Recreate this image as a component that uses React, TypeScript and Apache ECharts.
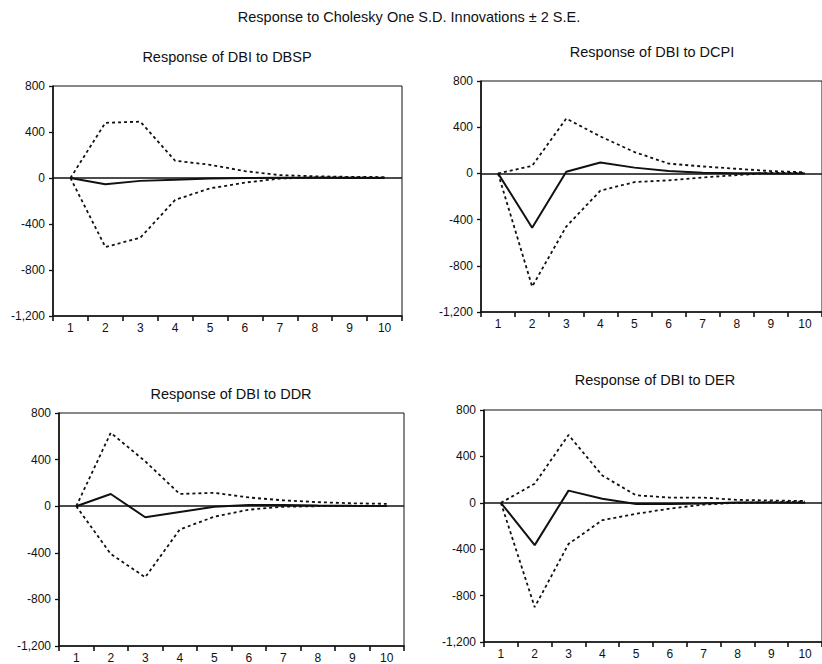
import React, { useEffect, useRef } from "react";
import * as echarts from "echarts";

const periods = ["1", "2", "3", "4", "5", "6", "7", "8", "9", "10"];
const yTicks = { min: -1200, max: 800, interval: 400 };

const mainTitle = "Response to Cholesky One S.D. Innovations ± 2 S.E.";
const panelTitles = [
  "Response of DBI to DBSP",
  "Response of DBI to DCPI",
  "Response of DBI to DDR",
  "Response of DBI to DER",
];

// DBI to DBSP
const dbspResp = [0, -55, -25, -15, -5, 0, 2, 2, 1, 0];
const dbspUpper = [0, 480, 490, 150, 115, 60, 25, 15, 10, 8];
const dbspLower = [0, -600, -520, -190, -90, -40, -5, 5, 5, 3];

// DBI to DCPI
const dcpiResp = [0, -470, 15, 95, 50, 20, 5, 2, 0, 0];
const dcpiUpper = [0, 65, 475, 320, 185, 85, 60, 40, 20, 10];
const dcpiLower = [0, -980, -460, -150, -75, -60, -35, -15, 5, 5];

// DBI to DDR
const ddrResp = [0, 105, -95, -50, -5, 10, 10, 5, 3, 2];
const ddrUpper = [0, 630, 385, 105, 115, 75, 50, 35, 25, 20];
const ddrLower = [0, -410, -610, -200, -90, -30, -5, 0, 2, 2];

// DBI to DER
const derResp = [0, -365, 105, 35, -10, -10, -5, 2, 2, 0];
const derUpper = [0, 165, 585, 235, 65, 45, 45, 25, 20, 15];
const derLower = [0, -900, -355, -150, -95, -50, -15, 0, 5, 10];

const panels = [
  { resp: dbspResp, upper: dbspUpper, lower: dbspLower },
  { resp: dcpiResp, upper: dcpiUpper, lower: dcpiLower },
  { resp: ddrResp, upper: ddrUpper, lower: ddrLower },
  { resp: derResp, upper: derUpper, lower: derLower },
];

// layout
const grids = [
  { left: 53, top: 86, width: 349, height: 230 },
  { left: 481, top: 81, width: 349, height: 231 },
  { left: 59, top: 413, width: 345, height: 233 },
  { left: 484, top: 410, width: 349, height: 232 },
];
const titlePos = [
  [227, 57],
  [652, 52],
  [231, 394],
  [655, 380],
];

const FONT = "Liberation Sans, Arial, sans-serif";
const INK = "#111";

const fmt = (v: number) => {
  const s = Math.abs(v).toString().replace(/\B(?=(\d{3})+(?!\d))/g, ",");
  return (v < 0 ? "-" : "") + s;
};

export default function App() {
  const ref = useRef<HTMLDivElement>(null);
  useEffect(() => {
    if (!ref.current) return;
    const chart = echarts.init(ref.current, undefined, { renderer: "svg" });
    const series: any[] = [];
    panels.forEach((p, i) => {
      series.push({
        type: "line",
        xAxisIndex: i,
        yAxisIndex: i,
        data: p.resp,
        symbol: "none",
        lineStyle: { color: INK, width: 2, type: "solid" },
        markLine: {
          silent: true,
          symbol: "none",
          label: { show: false },
          lineStyle: { color: INK, width: 1.6, type: "solid" },
          data: [{ yAxis: 0 }],
        },
        z: 3,
      });
      [p.upper, p.lower].forEach((d) => {
        series.push({
          type: "line",
          xAxisIndex: i,
          yAxisIndex: i,
          data: d,
          symbol: "none",
          lineStyle: { color: INK, width: 1.8, type: [3, 3] },
          z: 2,
        });
      });
    });
    const option: any = {
      animation: false,
      backgroundColor: "#fff",
      grid: grids.map((g) => ({
        ...g,
        show: true,
        borderColor: INK,
        borderWidth: 1,
        backgroundColor: "transparent",
      })),
      xAxis: grids.map((_, i) => ({
        type: "category",
        gridIndex: i,
        data: periods,
        boundaryGap: true,
        axisLine: { show: true, onZero: false, lineStyle: { color: INK, width: 1.6 } },
        axisTick: { show: true, length: 5, interval: 0, lineStyle: { color: INK, width: 1.6 } },
        axisLabel: { interval: 0, margin: 6, fontSize: 12, color: INK, fontFamily: FONT },
        splitLine: { show: false },
      })),
      yAxis: grids.map((_, i) => ({
        type: "value",
        gridIndex: i,
        min: yTicks.min,
        max: yTicks.max,
        interval: yTicks.interval,
        axisLine: { show: true, lineStyle: { color: INK, width: 1.6 } },
        axisTick: { show: true, length: 4, lineStyle: { color: INK, width: 1.3 } },
        axisLabel: { margin: 8, fontSize: 12, color: INK, fontFamily: FONT, formatter: fmt },
        splitLine: { show: false },
      })),
      graphic: [
        {
          type: "text",
          x: 409,
          y: 17,
          style: {
            text: mainTitle,
            fill: INK,
            font: `14.5px ${FONT}`,
            textAlign: "center",
            textVerticalAlign: "middle",
          },
        },
        ...panelTitles.map((t, i) => ({
          type: "text",
          x: titlePos[i][0],
          y: titlePos[i][1],
          style: {
            text: t,
            fill: INK,
            font: `14.5px ${FONT}`,
            textAlign: "center",
            textVerticalAlign: "middle",
          },
        })),
      ],
      series,
    };
    chart.setOption(option);
    return () => chart.dispose();
  }, []);
  return (
    <div
      ref={ref}
      style={{ position: "absolute", left: 0, top: 0, width: 822, height: 664 }}
    />
  );
}
